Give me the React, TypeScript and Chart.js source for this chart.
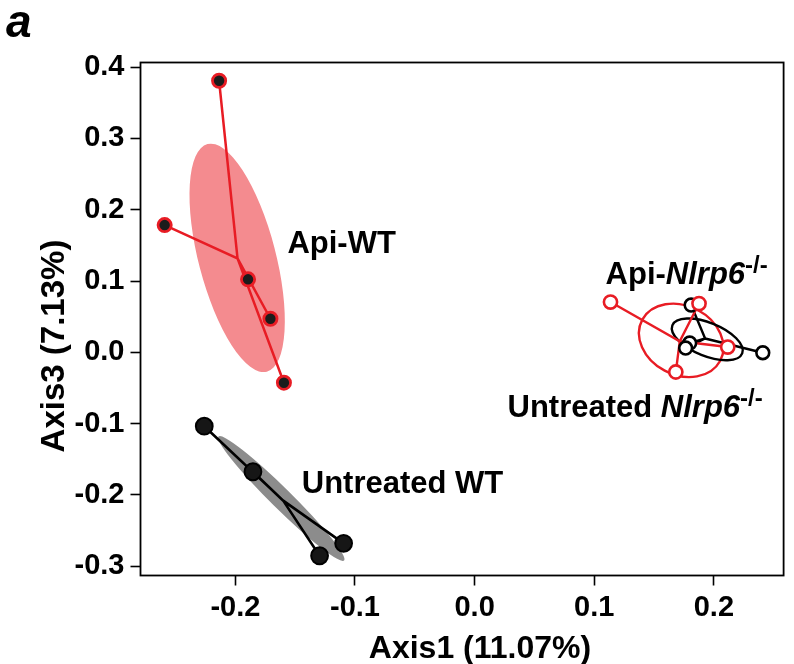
import React, { useEffect, useRef } from 'react';
import { Chart, registerables } from 'chart.js';

Chart.register(...registerables);

// ---------- axis limits & ticks ----------
const X_MIN = -0.2793;
const X_MAX = 0.2583;
const Y_MIN = -0.313;
const Y_MAX = 0.4065;
const X_TICKS = [-0.2, -0.1, 0.0, 0.1, 0.2];
const Y_TICKS = [-0.3, -0.2, -0.1, 0.0, 0.1, 0.2, 0.3, 0.4];

// ---------- samples (Axis1, Axis3) ----------
const API_WT_X = [-0.2136, -0.2591, -0.1894, -0.1707, -0.1594];
const API_WT_Y = [0.3809, 0.1785, 0.1024, 0.0471, -0.0426];
const UNT_WT_X = [-0.226, -0.1853, -0.1095, -0.1296];
const UNT_WT_Y = [-0.1036, -0.1675, -0.2679, -0.2853];
const API_KO_X = [0.1136, 0.1876, 0.2116, 0.1682];
const API_KO_Y = [0.0705, 0.0684, 0.0074, -0.0276];
const UNT_KO_X = [0.181, 0.1798, 0.1764, 0.2409];
const UNT_KO_Y = [0.0663, 0.013, 0.006, -0.0006];

// ---------- group centroids [x, y] ----------
const API_WT_CENTROID = [-0.1982, 0.1318];
const UNT_WT_CENTROID = [-0.16, -0.208];
const API_KO_CENTROID = [0.1715, 0.0155];
const UNT_KO_CENTROID = [0.1927, 0.0194];

// ---------- ellipses: [cx, cy, ux, uy, vx, vy] (centre + two semi-axis vectors, data units) ----------
const API_WT_ELLIPSE = [-0.1985, 0.1325, 0.0248, -0.1596, 0.0312, 0.014];
const UNT_WT_ELLIPSE = [-0.1616, -0.205, 0.0525, -0.087, 0.006, 0.0102];
const API_KO_ELLIPSE = [0.1727, 0.0168, 0.0325, -0.029, -0.0138, -0.0425];
const UNT_KO_ELLIPSE = [0.1945, 0.0182, 0.0292, -0.0196, -0.005, -0.0218];

// ---------- group labels ----------
const LABEL_API_WT = 'Api-WT';
const LABEL_UNT_WT = 'Untreated WT';
const LABEL_API_KO = ['Api-', 'Nlrp6', '-/-'];
const LABEL_UNT_KO = ['Untreated ', 'Nlrp6', '-/-'];
// label anchors (left / baseline) in data units
const LABEL_API_WT_AT = [-0.1565, 0.1393];
const LABEL_UNT_WT_AT = [-0.1445, -0.1973];
const LABEL_API_KO_AT = [0.1095, 0.0958];
const LABEL_UNT_KO_AT = [0.0275, -0.0907];

const X_TITLE = 'Axis1 (11.07%)';
const Y_TITLE = 'Axis3 (7.13%)';
const PANEL = 'a';

const FAMILY = "'Liberation Sans', Arial, Helvetica, sans-serif";
const RED = '#e81c24';
const PINK = '#f48b8f';
const GREY = '#8c8c8c';

function pts(xs: number[], ys: number[]) {
  return xs.map((x, i) => ({ x, y: ys[i] }));
}

function spider(xs: number[], ys: number[], c: number[]) {
  const out: { x: number; y: number }[] = [];
  xs.forEach((x, i) => {
    out.push({ x: c[0], y: c[1] });
    out.push({ x, y: ys[i] });
  });
  out.push({ x: c[0], y: c[1] });
  return out;
}

function traceEllipse(ctx: CanvasRenderingContext2D, chart: any, e: number[]) {
  const xs = chart.scales.x;
  const ys = chart.scales.y;
  const cx = xs.getPixelForValue(e[0]);
  const cy = ys.getPixelForValue(e[1]);
  const ux = xs.getPixelForValue(e[0] + e[2]) - cx;
  const uy = ys.getPixelForValue(e[1] + e[3]) - cy;
  const vx = xs.getPixelForValue(e[0] + e[4]) - cx;
  const vy = ys.getPixelForValue(e[1] + e[5]) - cy;
  ctx.save();
  ctx.transform(ux, uy, vx, vy, cx, cy);
  ctx.beginPath();
  ctx.arc(0, 0, 1, 0, Math.PI * 2);
  ctx.closePath();
  ctx.restore();
}

const ellipsePlugin = {
  id: 'ellipses',
  beforeDatasetsDraw(chart: any) {
    const ctx = chart.ctx as CanvasRenderingContext2D;
    const a = chart.chartArea;
    ctx.save();
    ctx.beginPath();
    ctx.rect(a.left, a.top, a.right - a.left, a.bottom - a.top);
    ctx.clip();
    traceEllipse(ctx, chart, API_WT_ELLIPSE);
    ctx.fillStyle = PINK;
    ctx.fill();
    traceEllipse(ctx, chart, UNT_WT_ELLIPSE);
    ctx.fillStyle = GREY;
    ctx.fill();
    ctx.lineWidth = 2.4;
    traceEllipse(ctx, chart, API_KO_ELLIPSE);
    ctx.strokeStyle = RED;
    ctx.stroke();
    traceEllipse(ctx, chart, UNT_KO_ELLIPSE);
    ctx.strokeStyle = '#000';
    ctx.stroke();
    ctx.restore();
  },
};

function drawParts(
  ctx: CanvasRenderingContext2D,
  x: number,
  y: number,
  parts: { t: string; font: string; dy: number }[]
) {
  let cx = x;
  parts.forEach((p) => {
    ctx.font = p.font;
    ctx.fillText(p.t, cx, y + p.dy);
    cx += ctx.measureText(p.t).width;
  });
}

const textPlugin = {
  id: 'texts',
  afterDraw(chart: any) {
    const ctx = chart.ctx as CanvasRenderingContext2D;
    const a = chart.chartArea;
    const xs = chart.scales.x;
    const ys = chart.scales.y;
    ctx.save();
    // frame
    ctx.strokeStyle = '#000';
    ctx.lineWidth = 1.8;
    ctx.strokeRect(a.left, a.top, a.right - a.left, a.bottom - a.top);

    ctx.fillStyle = '#000';
    ctx.textAlign = 'left';
    ctx.textBaseline = 'alphabetic';
    const B = `bold 31px ${FAMILY}`;
    const BI = `italic bold 31px ${FAMILY}`;
    const SUP = `bold 24px ${FAMILY}`;
    const px = (p: number[]) => [xs.getPixelForValue(p[0]), ys.getPixelForValue(p[1])];

    let p = px(LABEL_API_WT_AT);
    drawParts(ctx, p[0], p[1], [{ t: LABEL_API_WT, font: B, dy: 0 }]);
    p = px(LABEL_UNT_WT_AT);
    drawParts(ctx, p[0], p[1], [{ t: LABEL_UNT_WT, font: B, dy: 0 }]);
    p = px(LABEL_API_KO_AT);
    drawParts(ctx, p[0], p[1], [
      { t: LABEL_API_KO[0], font: B, dy: 0 },
      { t: LABEL_API_KO[1], font: BI, dy: 0 },
      { t: LABEL_API_KO[2], font: SUP, dy: -11 },
    ]);
    p = px(LABEL_UNT_KO_AT);
    drawParts(ctx, p[0], p[1], [
      { t: LABEL_UNT_KO[0], font: B, dy: 0 },
      { t: LABEL_UNT_KO[1], font: BI, dy: 0 },
      { t: LABEL_UNT_KO[2], font: SUP, dy: -11 },
    ]);

    // axis titles
    ctx.textAlign = 'center';
    ctx.font = `bold 32px ${FAMILY}`;
    ctx.fillText(X_TITLE, 480, 658);
    ctx.font = `bold 33px ${FAMILY}`;
    ctx.save();
    ctx.translate(63.5, 346);
    ctx.rotate(-Math.PI / 2);
    ctx.fillText(Y_TITLE, 0, 0);
    ctx.restore();

    // panel letter
    ctx.textAlign = 'left';
    ctx.font = `italic bold 46px ${FAMILY}`;
    ctx.fillText(PANEL, 6, 37);
    ctx.restore();
  },
};

export default function App() {
  const ref = useRef<HTMLCanvasElement | null>(null);

  useEffect(() => {
    if (!ref.current) return;
    const tickFont = { family: FAMILY, size: 29, weight: 'bold' as const };
    const chart = new Chart(ref.current, {
      type: 'scatter',
      data: {
        datasets: [
          {
            label: 'Untreated Nlrp6 points',
            data: pts(UNT_KO_X, UNT_KO_Y),
            pointRadius: 6.4,
            pointBorderWidth: 2.6,
            pointBackgroundColor: '#fff',
            pointBorderColor: '#000',
            order: 2,
          },
          {
            label: 'Api Nlrp6 points',
            data: pts(API_KO_X, API_KO_Y),
            pointRadius: 6.6,
            pointBorderWidth: 2.6,
            pointBackgroundColor: '#fff',
            pointBorderColor: RED,
            order: 1,
          },
          {
            label: 'Api-WT points',
            data: pts(API_WT_X, API_WT_Y),
            pointRadius: 6.6,
            pointBorderWidth: 2.8,
            pointBackgroundColor: '#1c1c1c',
            pointBorderColor: RED,
            order: 1,
          },
          {
            label: 'Untreated WT points',
            data: pts(UNT_WT_X, UNT_WT_Y),
            pointRadius: 8.4,
            pointBorderWidth: 2,
            pointBackgroundColor: '#161616',
            pointBorderColor: '#000',
            order: 1,
          },
          {
            label: 'Api-WT spider',
            data: spider(API_WT_X, API_WT_Y, API_WT_CENTROID),
            showLine: true,
            pointRadius: 0,
            borderColor: RED,
            borderWidth: 2.5,
            order: 5,
          },
          {
            label: 'Untreated WT spider',
            data: spider(UNT_WT_X, UNT_WT_Y, UNT_WT_CENTROID),
            showLine: true,
            pointRadius: 0,
            borderColor: '#000',
            borderWidth: 2.6,
            order: 5,
          },
          {
            label: 'Untreated Nlrp6 spider',
            data: spider(UNT_KO_X, UNT_KO_Y, UNT_KO_CENTROID),
            showLine: true,
            pointRadius: 0,
            borderColor: '#000',
            borderWidth: 2.4,
            order: 6,
          },
          {
            label: 'Api Nlrp6 spider',
            data: spider(API_KO_X, API_KO_Y, API_KO_CENTROID),
            showLine: true,
            pointRadius: 0,
            borderColor: RED,
            borderWidth: 2.4,
            order: 5,
          },
        ],
      },
      options: {
        animation: false,
        responsive: false,
        events: [],
        layout: { padding: { top: 62.5, right: 3, left: 0, bottom: 0 } },
        plugins: {
          legend: { display: false },
          tooltip: { enabled: false },
        },
        scales: {
          x: {
            type: 'linear',
            min: X_MIN,
            max: X_MAX,
            afterBuildTicks: (s: any) => {
              s.ticks = X_TICKS.map((v) => ({ value: v }));
            },
            afterFit: (s: any) => {
              s.height = 88.5;
            },
            grid: {
              display: true,
              drawOnChartArea: false,
              drawTicks: true,
              tickLength: 10,
              tickColor: '#000',
              tickWidth: 1.6,
            },
            border: { display: false },
            ticks: {
              font: tickFont,
              color: '#000',
              padding: 5,
              maxRotation: 0,
              autoSkip: false,
              callback: (v: any) => Number(v).toFixed(1),
            },
          },
          y: {
            type: 'linear',
            min: Y_MIN,
            max: Y_MAX,
            afterBuildTicks: (s: any) => {
              s.ticks = Y_TICKS.map((v) => ({ value: v }));
            },
            afterFit: (s: any) => {
              s.width = 140.5;
            },
            grid: {
              display: true,
              drawOnChartArea: false,
              drawTicks: true,
              tickLength: 10,
              tickColor: '#000',
              tickWidth: 1.6,
            },
            border: { display: false },
            ticks: {
              font: tickFont,
              color: '#000',
              padding: 6,
              autoSkip: false,
              callback: (v: any) => Number(v).toFixed(1),
            },
          },
        },
      },
      plugins: [ellipsePlugin, textPlugin],
    });
    return () => chart.destroy();
  }, []);

  return (
    <div style={{ position: 'absolute', left: 0, top: 0, width: 794, height: 664, background: '#fff' }}>
      <canvas ref={ref} width={794} height={664} style={{ display: 'block', width: 794, height: 664 }} />
    </div>
  );
}
